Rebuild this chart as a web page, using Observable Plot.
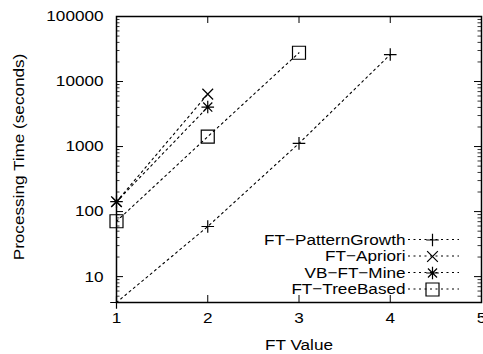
<!DOCTYPE html>
<html>
<head>
<meta charset="utf-8">
<script src="https://cdn.jsdelivr.net/npm/d3@7"></script>
<script src="https://cdn.jsdelivr.net/npm/@observablehq/plot@0.6"></script>
<style>
  html, body { margin: 0; padding: 0; background: #fff; }
</style>
</head>
<body>
<div id="chart"></div>
<script>
// ---- data ----
const seriesNames = ["FT\u2212PatternGrowth", "FT\u2212Apriori", "VB\u2212FT\u2212Mine", "FT\u2212TreeBased"];
const ftPatternGrowthX = [1, 2, 3, 4];
const ftPatternGrowthY = [4, 59, 1120, 26000];
const ftAprioriX = [1, 2];
const ftAprioriY = [142, 6400];
const vbFtMineX = [1, 2];
const vbFtMineY = [142, 4050];
const ftTreeBasedX = [1, 2, 3];
const ftTreeBasedY = [71, 1420, 27700];
const xTicks = [1, 2, 3, 4, 5];
const yTicks = [10, 100, 1000, 10000, 100000];
const yDomain = [4, 100000];
const xDomain = [1, 5];

// ---- build table ----
const seriesData = [
  [ftPatternGrowthX, ftPatternGrowthY],
  [ftAprioriX, ftAprioriY],
  [vbFtMineX, vbFtMineY],
  [ftTreeBasedX, ftTreeBasedY]
];
const rows = [];
seriesData.forEach(([xs, ys], i) => xs.forEach((x, j) => rows.push({series: seriesNames[i], x, y: ys[j]})));

// minor log ticks
const yMinor = [];
for (let e = 0; e <= 4; e++) for (let m = 2; m <= 9; m++) {
  const v = m * Math.pow(10, e);
  if (v >= yDomain[0] && v <= yDomain[1]) yMinor.push(v);
}

// ---- custom gnuplot-like symbols ----
const rad = (size) => Math.sqrt(size / Math.PI);
const plusSym = {draw(c, s) { const r = rad(s); c.moveTo(-r, 0); c.lineTo(r, 0); c.moveTo(0, -r); c.lineTo(0, r); }};
const timesSym = {draw(c, s) { const r = rad(s) * 0.85; c.moveTo(-r, -r); c.lineTo(r, r); c.moveTo(-r, r); c.lineTo(r, -r); }};
const starSym = {draw(c, s) { const r = rad(s); const q = r * 0.72;
  c.moveTo(-r, 0); c.lineTo(r, 0); c.moveTo(0, -r); c.lineTo(0, r);
  c.moveTo(-q, -q); c.lineTo(q, q); c.moveTo(-q, q); c.lineTo(q, -q); }};
const squareSym = {draw(c, s) { const r = rad(s); c.moveTo(-r, -r); c.lineTo(r, -r); c.lineTo(r, r); c.lineTo(-r, r); c.closePath(); }};
const symbols = [plusSym, timesSym, starSym, squareSym];
const symR = [6.3, 6.3, 6.3, 6.5];

const W = 483, H = 354;
const mL = 116, mR = 2, mT = 16, mB = 52;
const fw = W - mL - mR, fh = H - mT - mB;
const dash = "2,3.5";
const FS = 15.3;

const marks = [];
// ticks (inward, mirrored)
marks.push(Plot.tickY(yTicks, {y: d => d, insetRight: fw - 7, stroke: "black", strokeWidth: 1}));
marks.push(Plot.tickY(yTicks, {y: d => d, insetLeft: fw - 7, stroke: "black", strokeWidth: 1}));
marks.push(Plot.tickY(yMinor, {y: d => d, insetRight: fw - 3.5, stroke: "black", strokeWidth: 0.8}));
marks.push(Plot.tickY(yMinor, {y: d => d, insetLeft: fw - 3.5, stroke: "black", strokeWidth: 0.8}));
marks.push(Plot.tickX(xTicks, {x: d => d, insetTop: fh - 7, stroke: "black", strokeWidth: 1}));
marks.push(Plot.tickX(xTicks, {x: d => d, insetBottom: fh - 7, stroke: "black", strokeWidth: 1}));
// axes labels
marks.push(Plot.axisY(yTicks, {tickSize: 0, tickPadding: 13, fontSize: FS, tickFormat: d => String(d), label: null}));
marks.push(Plot.axisX(xTicks, {tickSize: 0, tickPadding: 10, fontSize: FS, tickFormat: d => String(d), label: null}));
marks.push(Plot.text(["FT Value"], {frameAnchor: "bottom", dy: 43, lineAnchor: "middle", fontSize: FS}));
marks.push(Plot.text(["Processing Time (seconds)"], {frameAnchor: "left", dx: -97, dy: -2.5, rotate: -90, textAnchor: "middle", lineAnchor: "middle", fontSize: FS}));
// data lines
marks.push(Plot.line(rows, {x: "x", y: "y", z: "series", stroke: "black", strokeWidth: 1.1, strokeDasharray: dash}));
// markers
seriesNames.forEach((name, i) => {
  marks.push(Plot.dot(rows.filter(d => d.series === name), {x: "x", y: "y", symbol: symbols[i], r: symR[i], fill: "none", stroke: "black", strokeWidth: 1.2}));
});
// legend
const legendDy = [-62.5, -46, -29.5, -13];
marks.push((index, scales, values, dims) => {
  const g = d3.create("svg:g");
  const right = dims.width - dims.marginRight, bottom = dims.height - dims.marginBottom;
  legendDy.forEach(dy => {
    g.append("line")
      .attr("x1", right - 73).attr("x2", right - 22)
      .attr("y1", bottom + dy).attr("y2", bottom + dy)
      .attr("stroke", "black").attr("stroke-width", 1.1)
      .attr("stroke-dasharray", dash);
  });
  return g.node();
});
seriesNames.forEach((name, i) => {
  marks.push(Plot.text([name], {frameAnchor: "bottom-right", dx: -76, dy: legendDy[i], textAnchor: "end", lineAnchor: "middle", fontSize: FS}));
  marks.push(Plot.dot([0], {frameAnchor: "bottom-right", dx: -49, dy: legendDy[i], symbol: symbols[i], r: symR[i], fill: "none", stroke: "black", strokeWidth: 1.2}));
});
marks.push(Plot.frame({stroke: "black", strokeWidth: 1.5}));

const chart = Plot.plot({
  width: W, height: H,
  marginLeft: mL, marginRight: mR, marginTop: mT, marginBottom: mB,
  x: {domain: xDomain, axis: null},
  y: {type: "log", domain: yDomain, axis: null},
  style: {fontFamily: "'Liberation Sans', Arial, Helvetica, sans-serif", fontSize: FS + "px", color: "black", background: "white", overflow: "visible"},
  marks
});
document.getElementById("chart").appendChild(chart);
// widen glyphs along the baseline, as in the reference's font rendering
chart.querySelectorAll("text").forEach(t => {
  const L = t.getComputedTextLength();
  if (L > 0) {
    t.setAttribute("textLength", (L * 1.12).toFixed(2));
    t.setAttribute("lengthAdjust", "spacingAndGlyphs");
  }
});
</script>
</body>
</html>
